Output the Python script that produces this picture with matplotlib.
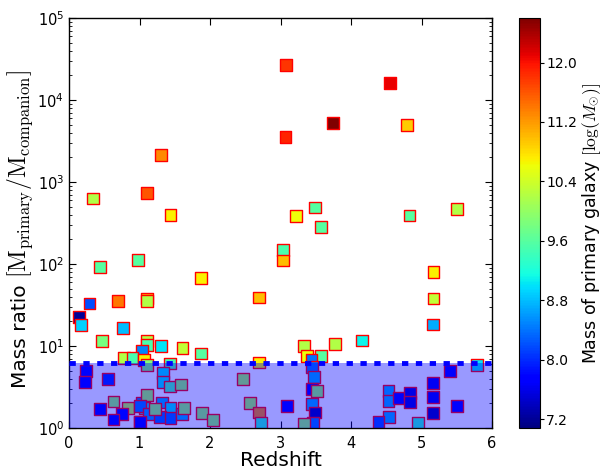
import numpy as np
import matplotlib
matplotlib.use("Agg")
import matplotlib.pyplot as plt
from matplotlib.ticker import FormatStrFormatter

plt.rcParams['mathtext.fontset'] = 'cm'
plt.rcParams['font.family'] = ['DejaVu Sans']

# Redshift of each system
redshift = [
    0.34, 1.11, 1.30, 1.44, 3.08, 3.07, 4.55, 3.74, 4.79, 3.22, 3.49, 4.83, 5.50,
    0.44, 0.98, 1.87, 0.29, 0.69, 1.11, 1.11, 2.69, 0.14, 0.17, 0.77, 0.47,
    1.11, 1.11, 1.30, 1.61, 1.87, 1.03, 0.78, 0.90, 1.06, 2.69, 1.43,
    3.03, 3.03, 3.57, 5.17, 5.17, 5.16, 4.15, 3.77, 3.33, 3.37, 3.57, 3.44,
    # below the threshold
    0.24, 0.23, 0.55, 0.44, 0.63, 0.84, 0.75, 0.63, 1.00, 1.03, 1.07,
    1.11, 1.33, 1.33, 1.43, 1.59, 1.11, 1.01, 1.13, 1.32, 1.44, 1.29, 1.44,
    1.60, 1.63, 1.89, 1.01, 1.22, 2.04,
    2.47, 2.57, 2.69, 2.72, 3.09,
    3.45, 3.47, 3.45, 3.52, 3.45, 3.49, 3.46, 3.33,
    5.40, 5.79, 5.16, 5.16, 5.16, 5.50, 4.53, 4.53, 4.68, 4.84, 4.84, 4.54, 4.39, 4.95,
]

# Mass ratio M_primary / M_companion
mass_ratio = [
    630, 740, 2130, 395, 27000, 3550, 16000, 5250, 5000, 385, 490, 390, 470,
    92, 112, 68, 33, 35, 38, 35, 39, 22.4, 18, 16.7, 11.4,
    11.5, 10.2, 10.0, 9.5, 8.1, 8.7, 7.1, 7.1, 6.7, 6.3, 6.1,
    148, 110, 285, 80, 38, 18.3, 11.7, 10.5, 10.0, 7.6, 7.6, 6.7,
    5.0, 3.6, 4.0, 1.7, 2.1, 1.77, 1.47, 1.27, 1.2, 2.0, 1.74,
    5.8, 4.7, 3.6, 3.2, 3.4, 2.55, 1.86, 1.47, 2.04, 1.74, 1.37, 1.31,
    1.47, 1.74, 1.53, 1.19, 1.7, 1.25,
    4.0, 2.0, 1.54, 1.16, 1.86,
    5.5, 4.2, 2.96, 2.85, 1.96, 1.54, 1.14, 1.12,
    5.0, 5.8, 3.5, 2.4, 1.51, 1.86, 2.85, 2.15, 2.34, 2.65, 2.09, 1.35, 1.19, 1.14,
]

# log10 stellar mass of the primary galaxy
primary_mass = [
    10.2, 11.6, 11.3, 10.7, 11.8, 11.9, 12.1, 12.6, 10.9, 10.6, 9.6, 9.6, 10.2,
    9.6, 9.6, 10.7, 8.2, 11.4, 11.0, 10.2, 11.0, 7.2, 8.9, 8.8, 9.8,
    10.2, 9.5, 9.0, 10.3, 9.6, 8.5, 10.2, 9.5, 10.7, 10.7, 9.5,
    9.5, 11.0, 9.6, 10.7, 10.3, 8.7, 9.1, 10.2, 10.2, 10.6, 9.6, 8.4,
    7.8, 7.7, 8.0, 7.8, 10.0, 10.3, 7.8, 7.8, 7.8, 8.5, 9.0,
    9.9, 9.0, 9.0, 9.5, 10.0, 10.1, 8.4, 8.6, 8.7, 9.0, 8.3, 8.3,
    8.7, 10.0, 10.0, 7.8, 10.0, 10.0,
    10.1, 10.1, 11.3, 9.3, 7.8,
    8.4, 8.7, 7.7, 10.0, 8.7, 7.3, 8.4, 10.0,
    7.8, 9.0, 7.6, 7.6, 7.3, 7.8, 8.7, 8.7, 7.8, 7.5, 7.5, 8.7, 8.2, 9.3,
]

threshold = 6.2
cbar_ticks = [7.2, 8.0, 8.8, 9.6, 10.4, 11.2, 12.0]

W, H = 602, 470
fig = plt.figure(figsize=(W / 100, H / 100), dpi=100)
ax = fig.add_axes([0.1146, 0.0894, 0.7028, 0.8723])
cax = fig.add_axes([0.862, 0.0894, 0.035, 0.8723])

sc = ax.scatter(redshift, mass_ratio, c=primary_mass, cmap='jet', vmin=7.08, vmax=12.6,
                marker='s', s=72, edgecolors='r', linewidths=1.0, zorder=2)
ax.axhspan(1, threshold, color='b', alpha=0.4, lw=0, zorder=3)
ax.axhline(threshold, color='b', lw=3.5, dashes=(1.3, 1.55), zorder=4)

ax.set_yscale('log')
ax.set_xlim(0, 6)
ax.set_ylim(1, 1e5)
ax.set_xticks([0, 1, 2, 3, 4, 5, 6])
ax.tick_params(which='both', direction='in', top=True, right=True, labelsize=10.5)
ax.tick_params(which='major', length=5, width=0.8)
ax.tick_params(which='minor', length=2.5, width=0.6)
ax.tick_params(axis='x', pad=6)
ax.set_xlabel('Redshift', fontsize=14.5, labelpad=0)
for sp in ax.spines.values():
    sp.set_linewidth(1.0)

# y label: plain part + larger serif bracket part
t1 = fig.text(20 / W, 1 - 388 / H, 'Mass ratio', rotation=90, rotation_mode='anchor',
              ha='left', va='center', fontsize=14.5)
fig.canvas.draw()
bb = t1.get_window_extent()
t2 = fig.text(20 / W, (bb.y1 + 6) / H, r'$[\mathrm{M_{primary}/M_{companion}}]$',
              rotation=90, rotation_mode='anchor', ha='left', va='center', fontsize=17)

cb = fig.colorbar(sc, cax=cax)
cb.set_ticks(cbar_ticks)
cb.ax.yaxis.set_major_formatter(FormatStrFormatter('%.1f'))
cb.ax.tick_params(labelsize=10, length=3, direction='out', pad=1.5)
cb.set_label(r'Mass of primary galaxy $[\log(M_{\odot})]$', fontsize=12.5, labelpad=2)
cb.outline.set_linewidth(0.8)

fig.savefig('out.png', dpi=100)
